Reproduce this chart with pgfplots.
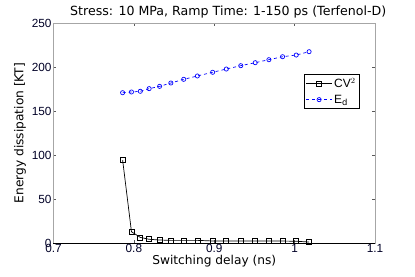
\documentclass[border=0pt]{standalone}
\usepackage{pgfplots}
\pgfplotsset{compat=1.18}
\usepackage{fontspec}
\setmainfont{DejaVu Sans}
\newfontfamily\tickfont{Liberation Sans}
\begin{document}
\begin{tikzpicture}
\useasboundingbox (-53.5bp,-34bp) rectangle (361.5bp,243bp);
\begin{axis}[
  at={(0,0)}, anchor=south west,
  scale only axis, width=321.5bp, height=220bp,
  xmin=0.7, xmax=1.1, ymin=0, ymax=250,
  xtick={0.7,0.8,0.9,1,1.1},
  xticklabels={0.7,0.8,0.9,1,1.1},
  ytick={0,50,100,150,200,250},
  yticklabels={0,50,100,150,200,250},
  tick align=inside,
  major tick length=3bp,
  every tick/.style={gray!70!black, line width=0.5pt},
  axis line style={gray!70, line width=0.6pt},
  tick label style={font=\tickfont\fontsize{11.8bp}{13bp}\selectfont, text=black!85!blue},
  xticklabel style={yshift=2bp},
  yticklabel style={xshift=1.5bp},
  title={Stress: 10 MPa, Ramp Time: 1-150 ps (Terfenol-D)},
  title style={font=\fontsize{12.6bp}{14bp}\selectfont, yshift=-5bp, xshift=14bp},
  xlabel={Switching delay (ns)},
  ylabel={Energy dissipation [KT]},
  label style={font=\fontsize{12.2bp}{14bp}\selectfont},
  xlabel style={yshift=4bp},
  ylabel style={yshift=-1bp},
  legend style={at={(0.953,0.768)}, anchor=north east, draw=black, line width=0.6pt,
    font=\tickfont\fontsize{12bp}{13bp}\selectfont, inner sep=2pt, row sep=1.5pt},
  legend cell align=left,
  legend image code/.code={\draw[mark repeat=2,mark phase=2] plot coordinates {(0cm,0cm) (0.45cm,0cm) (0.9cm,0cm)};},
  clip=false,
]
\addplot[black, line width=0.7pt, mark=square, mark size=2.5bp, mark options={solid, line width=0.7pt}]
coordinates {
(0.786,94.3) (0.797,12.8) (0.808,6.4) (0.819,4.2) (0.832,3.4) (0.846,3.0)
(0.862,3.0) (0.879,3.0) (0.898,2.3) (0.915,2.3) (0.933,2.3) (0.951,2.3)
(0.968,2.3) (0.985,2.2) (1.002,2.0) (1.018,1.1)
};
\addlegendentry{CV$^2$}
\addplot[blue, dashed, line width=0.7pt, mark=o, mark size=2.1bp, mark options={solid, line width=0.7pt}]
coordinates {
(0.786,170.8) (0.797,171.6) (0.808,172.4) (0.819,175.4) (0.832,178.0) (0.846,181.8)
(0.862,186.0) (0.879,189.8) (0.898,194.0) (0.915,197.7) (0.933,201.5) (0.951,204.9)
(0.968,208.3) (0.985,211.7) (1.002,213.6) (1.018,217.4)
};
\addlegendentry{E$_\mathrm{d}$}
\draw[black, line width=0.7pt] (rel axis cs:0,0) -- (rel axis cs:1,0);
\end{axis}
\end{tikzpicture}
\end{document}
